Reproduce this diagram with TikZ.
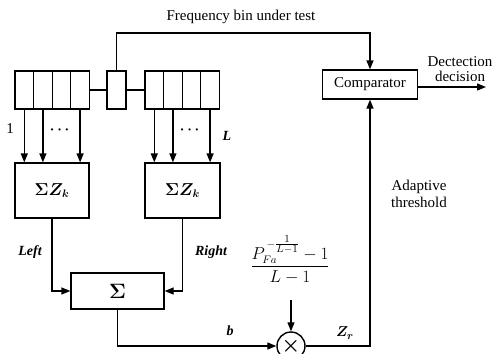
\documentclass[tikz,border=0pt]{standalone}
\usepackage{fontspec}
\setmainfont{Liberation Serif}
\usepackage{amsmath,bm}
\usetikzlibrary{arrows.meta}
\begin{document}
\begin{tikzpicture}[x=1pt,y=-1pt, line width=1.25pt,
 cell/.style={draw, minimum width=18.6pt, minimum height=38pt, inner sep=0pt},
 box/.style={draw, inner sep=0pt},
 arr/.style={-{Triangle[length=9pt,width=7pt]}},
 txt/.style={font=\fontsize{15}{17}\selectfont, inner sep=0pt, align=center},
 lbl/.style={font=\fontsize{14}{16}\selectfont\bfseries\itshape, inner sep=0pt}]
\useasboundingbox (0,0) rectangle (499,354);
\clip (0,0) rectangle (499,354);
% registers
\foreach \i/\x in {1/24.3,2/42.9,3/61.5,4/80.1} \node[cell] (L\i) at (\x,90) {};
\foreach \i/\x in {1/154.3,2/172.9,3/191.5,4/210.1} \node[cell] (R\i) at (\x,90) {};
\node[cell, minimum width=19pt] (C) at (116.5,90) {};
\draw (L4.east) -- (C.west);
\draw (C.east) -- (R1.west);
% sum boxes
\node[box, minimum width=74pt, minimum height=55pt, font=\fontsize{16}{18}\selectfont] (SL) at (52,190.5) {$\bm{\Sigma} \bm{Z_k}$};
\node[box, minimum width=75pt, minimum height=55pt, font=\fontsize{16}{18}\selectfont] (SR) at (182.5,190.5) {$\bm{\Sigma} \bm{Z_k}$};
\foreach \i in {1,2,4} {
  \draw[arr] (L\i.south) -- (L\i.south |- SL.north);
  \draw[arr] (R\i.south) -- (R\i.south |- SR.north);
}
\node[inner sep=0pt, font=\fontsize{15}{16}\selectfont] (d1) at (61,130) {$\bm{\cdots}$};
\node[inner sep=0pt, font=\fontsize{15}{16}\selectfont] (d2) at (191,130) {$\bm{\cdots}$};
\node[txt] (one) at (10,129) {1};
\node[lbl] (ell) at (227,136) {L};
% sigma box
\node[box, minimum width=93pt, minimum height=36pt, font=\fontsize{20}{22}\selectfont] (S) at (117.5,291) {$\bm{\Sigma}$};
\draw[arr] (SL.south) |- (S.west);
\draw[arr] (SR.south) |- (S.east);
\node[lbl] (lft) at (30,252) {Left};
\node[lbl] (rgt) at (211,252) {Right};
% multiplier
\node[draw, circle, minimum size=28pt, inner sep=0pt, line width=1.4pt, font=\fontsize{20}{22}\selectfont] (M) at (291,346) {$\bm{\times}$};
\draw[arr] (S.south) |- (M.west);
\node[lbl] (bl) at (230,331) {b};
\node[inner sep=0pt, font=\fontsize{16}{18}\selectfont] (F) at (290,260) {$\dfrac{P_{Fa}^{\,-\frac{\scriptstyle 1}{\scriptstyle L-1}}-1}{\;L-1\;}$};
\coordinate (Fs) at (291,300);
\draw[arr] (Fs) -- (M.north);
% comparator
\node[box, txt, minimum width=95pt, minimum height=29pt] (Cmp) at (370,84.5) {Comparator};
\node[inner sep=0pt, font=\fontsize{15}{17}\selectfont] (zr) at (345,333) {$\bm{Z_r}$};
\draw[arr] (M.east) -| (Cmp.south);
\coordinate (T) at (116.5,33);
\draw[arr] (C.north) -- (T) -| (Cmp.north);
\coordinate (Out) at (486,87);
\draw[arr] (Cmp.east |- Out) -- (Out);
\node[txt] (freq) at (241,17) {Frequency bin under test};
\node[txt, font=\fontsize{15}{15}\selectfont] (dec) at (460,69) {Dectection\\decision};
\node[txt, font=\fontsize{15}{17.5}\selectfont] (adp) at (419,194) {Adaptive\\threshold};
\end{tikzpicture}
\end{document}
